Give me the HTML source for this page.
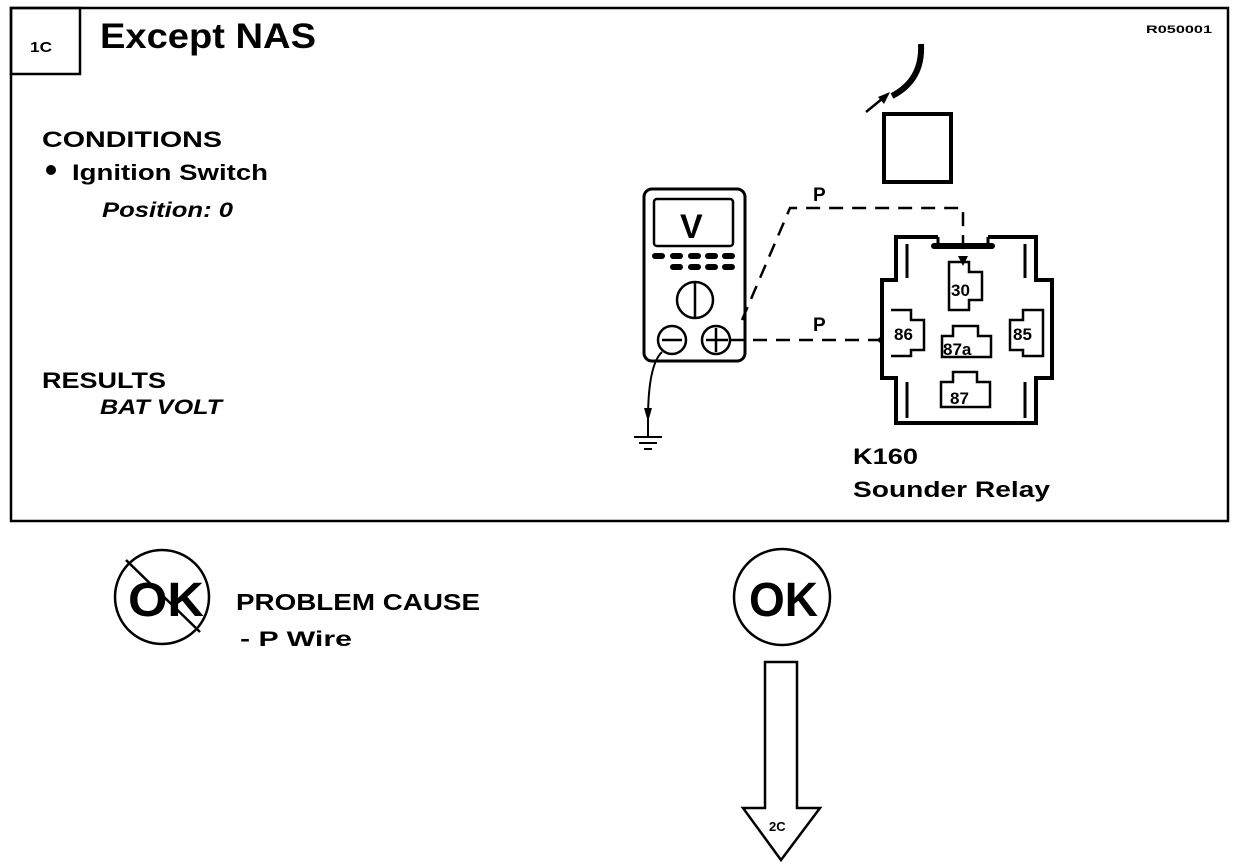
<!DOCTYPE html>
<html><head><style>
body{margin:0;background:#fff;}
svg{display:block;}
text{font-family:"Liberation Sans",Arial,sans-serif;font-weight:bold;fill:#000;}
</style></head><body>
<svg width="1248" height="868" viewBox="0 0 1248 868" xmlns="http://www.w3.org/2000/svg">
<rect x="11" y="8" width="1217" height="513" fill="none" stroke="#000" stroke-width="2.5"/>
<rect x="11" y="8" width="69" height="66" fill="none" stroke="#000" stroke-width="2.5"/>
<text x="30" y="52" font-size="15" textLength="22" lengthAdjust="spacingAndGlyphs">1C</text>
<text x="100" y="48" font-size="35" textLength="216" lengthAdjust="spacingAndGlyphs">Except NAS</text>
<text x="1146" y="33" font-size="11" font-weight="normal" textLength="66" lengthAdjust="spacingAndGlyphs">R050001</text>
<text x="42" y="147" font-size="22" textLength="180" lengthAdjust="spacingAndGlyphs">CONDITIONS</text>
<circle cx="51" cy="170" r="5" fill="#000"/>
<text x="72" y="180" font-size="22" textLength="196" lengthAdjust="spacingAndGlyphs">Ignition Switch</text>
<text x="102" y="217" font-size="21" font-weight="normal" font-style="italic" textLength="131" lengthAdjust="spacingAndGlyphs">Position: 0</text>
<text x="42" y="388" font-size="22" textLength="124" lengthAdjust="spacingAndGlyphs">RESULTS</text>
<text x="100" y="414" font-size="21" font-weight="normal" font-style="italic" textLength="122" lengthAdjust="spacingAndGlyphs">BAT VOLT</text>

<!-- wire and square -->
<path d="M921 44 Q923 80 892 96" fill="none" stroke="#000" stroke-width="6"/>
<line x1="866" y1="112" x2="888" y2="94" stroke="#000" stroke-width="2.5"/>
<polygon points="890,92 878,97 884,104" fill="#000"/>
<rect x="884" y="114" width="67" height="68" fill="none" stroke="#000" stroke-width="4"/>

<!-- meter -->
<rect x="644" y="189" width="101" height="172" rx="8" fill="none" stroke="#000" stroke-width="3"/>
<rect x="654" y="199" width="79" height="47" rx="3" fill="none" stroke="#000" stroke-width="2.5"/>
<text x="680" y="238" font-size="34">V</text>
<g fill="#000">
<rect x="652" y="253" width="13" height="6" rx="3"/><rect x="670" y="253" width="13" height="6" rx="3"/><rect x="688" y="253" width="13" height="6" rx="3"/><rect x="705" y="253" width="13" height="6" rx="3"/><rect x="722" y="253" width="13" height="6" rx="3"/>
<rect x="670" y="264" width="13" height="6" rx="3"/><rect x="688" y="264" width="13" height="6" rx="3"/><rect x="705" y="264" width="13" height="6" rx="3"/><rect x="722" y="264" width="13" height="6" rx="3"/>
</g>
<circle cx="695" cy="300" r="18" fill="none" stroke="#000" stroke-width="2.5"/>
<line x1="695" y1="283" x2="695" y2="317" stroke="#000" stroke-width="2.5"/>
<circle cx="672" cy="340" r="14" fill="none" stroke="#000" stroke-width="2.5"/>
<line x1="662" y1="340" x2="682" y2="340" stroke="#000" stroke-width="2.5"/>
<circle cx="716" cy="340" r="14" fill="none" stroke="#000" stroke-width="2.5"/>
<line x1="706" y1="340" x2="728" y2="340" stroke="#000" stroke-width="2.5"/><line x1="716" y1="328" x2="716" y2="352" stroke="#000" stroke-width="2.5"/>
<!-- ground -->
<path d="M662 352 Q648 365 648 420" fill="none" stroke="#000" stroke-width="2"/>
<polygon points="644,408 652,408 648,422" fill="#000"/>
<line x1="648" y1="420" x2="648" y2="436" stroke="#000" stroke-width="2"/>
<line x1="634" y1="437" x2="662" y2="437" stroke="#000" stroke-width="2"/>
<line x1="639" y1="443" x2="657" y2="443" stroke="#000" stroke-width="2"/>
<line x1="644" y1="449" x2="652" y2="449" stroke="#000" stroke-width="2"/>

<!-- dashed wires -->
<path d="M742 320 L790 208 L963 208 L963 258" fill="none" stroke="#000" stroke-width="2.5" stroke-dasharray="14,9"/>
<line x1="730" y1="340" x2="882" y2="340" stroke="#000" stroke-width="2.5" stroke-dasharray="14,9"/>
<polygon points="958,256 968,256 963,266" fill="#000"/>
<circle cx="881" cy="340" r="3" fill="#000"/>
<text x="813" y="201" font-size="19">P</text>
<text x="813" y="331" font-size="19">P</text>

<!-- relay -->
<path d="M938 237 L896 237 L896 280 L882 280 L882 378 L896 378 L896 423 L1036 423 L1036 378 L1052 378 L1052 280 L1036 280 L1036 237 L988 237" fill="none" stroke="#000" stroke-width="4" stroke-linejoin="miter"/>
<line x1="938" y1="237" x2="938" y2="244" stroke="#000" stroke-width="3"/>
<line x1="988" y1="237" x2="988" y2="244" stroke="#000" stroke-width="3"/>
<line x1="934" y1="246" x2="992" y2="246" stroke="#000" stroke-width="6" stroke-linecap="round"/>
<line x1="907" y1="244" x2="907" y2="278" stroke="#000" stroke-width="3"/>
<line x1="1025" y1="244" x2="1025" y2="278" stroke="#000" stroke-width="3"/>
<line x1="907" y1="382" x2="907" y2="418" stroke="#000" stroke-width="3"/>
<line x1="1025" y1="382" x2="1025" y2="418" stroke="#000" stroke-width="3"/>
<g fill="none" stroke="#000" stroke-width="2.5">
<path d="M949 262 L969 262 L969 272 L982 272 L982 300 L969 300 L969 310 L949 310 Z"/>
<path d="M891 310 L911 310 L911 320 L924 320 L924 350 L911 350 L911 356 L891 356"/>
<path d="M1043 310 L1023 310 L1023 320 L1010 320 L1010 350 L1023 350 L1023 356 L1043 356 Z"/>
<path d="M953 326 L978 326 L978 336 L991 336 L991 357 L942 357 L942 336 L953 336 Z"/>
<path d="M953 372 L977 372 L977 382 L990 382 L990 407 L941 407 L941 382 L953 382 Z"/>
</g>
<g font-weight="normal" font-size="17">
<text x="951" y="296">30</text>
<text x="894" y="340">86</text>
<text x="1013" y="340">85</text>
<text x="943" y="355">87a</text>
<text x="950" y="404">87</text>
</g>
<text x="853" y="464" font-size="22" textLength="65" lengthAdjust="spacingAndGlyphs">K160</text>
<text x="853" y="497" font-size="22" textLength="197" lengthAdjust="spacingAndGlyphs">Sounder Relay</text>

<!-- NOT OK -->
<circle cx="162" cy="597" r="47" fill="none" stroke="#000" stroke-width="2.5"/>
<text x="128" y="616" font-size="48" textLength="76" lengthAdjust="spacingAndGlyphs">OK</text>
<line x1="126" y1="560" x2="200" y2="632" stroke="#000" stroke-width="2.5"/>
<text x="236" y="610" font-size="23" textLength="244" lengthAdjust="spacingAndGlyphs">PROBLEM CAUSE</text>
<text x="240" y="646" font-size="21" textLength="112" lengthAdjust="spacingAndGlyphs">- P  Wire</text>

<!-- OK -->
<circle cx="782" cy="597" r="48" fill="none" stroke="#000" stroke-width="2.5"/>
<text x="749" y="616" font-size="48" textLength="69" lengthAdjust="spacingAndGlyphs">OK</text>
<path d="M765 662 L797 662 L797 808 L820 808 L781 860 L743 808 L765 808 Z" fill="none" stroke="#000" stroke-width="2.5"/>
<text x="769" y="831" font-size="13">2C</text>
</svg>
</body></html>
